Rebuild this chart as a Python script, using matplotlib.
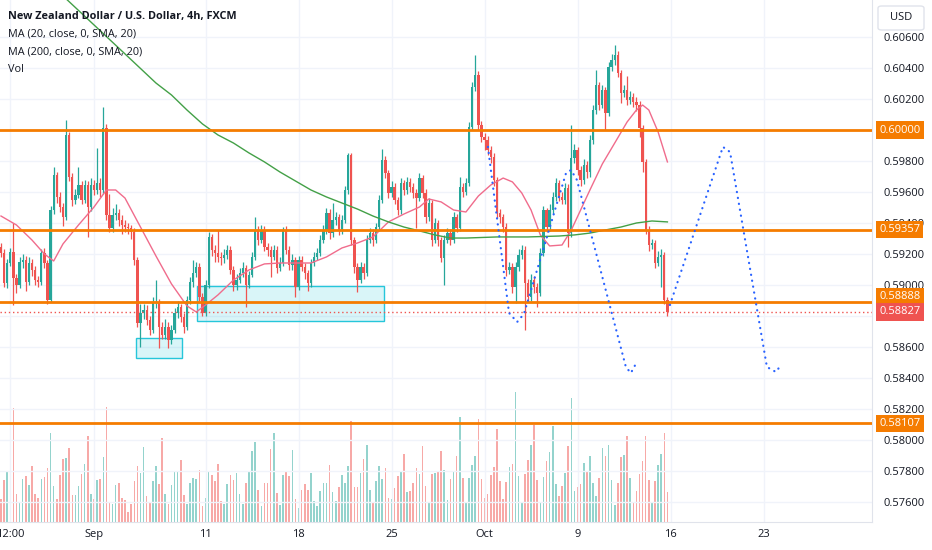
import matplotlib
matplotlib.use("Agg")
import matplotlib.pyplot as plt
import matplotlib.transforms as mtransforms
from matplotlib.patches import Rectangle, FancyBboxPatch
import numpy as np

plt.rcParams["font.family"] = ["Open Sans", "DejaVu Sans"]

# NZDUSD 4h candles, prices in 1e-5 USD
first_open = 59245
closes = [
    59206, 59013, 59142, 59213, 59045, 59000, 59148, 59161, 59019, 59142,
    59097, 59032, 59019, 59206, 59142, 58903, 59484, 59710, 59568, 59503,
    59439, 59968, 59697, 59548, 59581, 59645, 59548, 59645, 59503, 59645,
    59613, 59658, 59613, 60013, 59452, 59368, 59452, 59465, 59419, 59387,
    59374, 59368, 59342, 59161, 58755, 58819, 58839, 58774, 58710, 58884,
    58890, 58729, 58677, 58729, 58645, 58710, 58819, 58858, 58793, 58729,
    58903, 59019, 59077, 59116, 58923, 58819, 59000, 59310, 59226, 59206,
    59181, 59174, 59194, 59226, 59097, 59000, 59032, 59077, 59110, 59000,
    59065, 59181, 59355, 59290, 59355, 59245, 59226, 59181, 59226, 59110,
    59142, 59355, 59226, 59129, 59161, 58987, 59161, 59116, 59077, 59013,
    59142, 59181, 59206, 59290, 59355, 59465, 59335, 59419, 59439, 59355,
    59419, 59613, 59839, 59290, 59116, 59032, 59116, 59077, 59290, 59335,
    59290, 59374, 59548, 59806, 59723, 59594, 59632, 59548, 59484, 59658,
    59613, 59665, 59632, 59594, 59561, 59690, 59594, 59439, 59529, 59290,
    59400, 59290, 59174, 59290, 59335, 59290, 59439, 59368, 59632, 59600,
    59658, 60019, 60277, 60355, 60032, 59955, 59935, 59871, 59826, 59677,
    59465, 59439, 59374, 59097, 59116, 58987, 59116, 59194, 59226, 59013,
    58923, 59032, 58987, 58948, 59206, 59484, 59374, 59484, 59568, 59658,
    59568, 59548, 59626, 59335, 59819, 59871, 59742, 59677, 59774, 59729,
    59935, 60129, 60290, 60161, 60258, 60110, 60406, 60452, 60484, 60368,
    60239, 60258, 60194, 60213, 60181, 60161, 60013, 59794, 59355, 59258,
    59271, 59142, 59181, 59194, 58903, 58827,
]
highs = [
    59270, 59230, 59170, 59240, 59400, 59070, 59180, 59200, 59190, 59180,
    59170, 59120, 59060, 59230, 59240, 59160, 59510, 59760, 59730, 59600,
    59530, 60065, 59990, 59720, 59620, 59761, 59670, 59680, 59670, 59690,
    59680, 59884, 59690, 60148, 60040, 59590, 59500, 59520, 59490, 59450,
    59420, 59400, 59390, 59370, 59180, 58880, 58880, 58870, 58800, 58920,
    59032, 58910, 58760, 58780, 58760, 58740, 58850, 58900, 58880, 58820,
    58930, 59050, 59161, 59150, 59140, 58950, 59030, 59342, 59330, 59260,
    59355, 59210, 59230, 59260, 59250, 59120, 59070, 59110, 59150, 59130,
    59090, 59210, 59439, 59380, 59390, 59380, 59270, 59250, 59260, 59250,
    59180, 59374, 59380, 59250, 59200, 59180, 59190, 59190, 59140, 59100,
    59170, 59210, 59240, 59320, 59390, 59500, 59490, 59529, 59470, 59460,
    59450, 59640, 59852, 59850, 59310, 59140, 59150, 59140, 59320, 59370,
    59360, 59400, 59580, 59877, 59830, 59740, 59670, 59660, 59570, 59690,
    59680, 59700, 59690, 59660, 59620, 59720, 59710, 59620, 59560, 59550,
    59430, 59420, 59310, 59320, 59370, 59360, 59470, 59460, 59697, 59660,
    59690, 60050, 60310, 60484, 60380, 60060, 59980, 59960, 59900, 59850,
    59700, 59490, 59460, 59400, 59150, 59140, 59150, 59230, 59260, 59250,
    59040, 59070, 59060, 59010, 59240, 59510, 59500, 59520, 59600, 59690,
    59680, 59600, 59660, 59650, 60032, 59910, 59890, 59770, 59810, 59800,
    59970, 60160, 60387, 60310, 60290, 60280, 60440, 60490, 60549, 60510,
    60390, 60290, 60350, 60250, 60240, 60210, 60190, 60030, 59810, 59380,
    59300, 59290, 59220, 59230, 59210, 58920,
]
lows = [
    59180, 58990, 58980, 59120, 58871, 58950, 58980, 59110, 58960, 59000,
    59060, 59000, 58990, 59000, 59110, 58877, 58890, 59460, 59530, 59470,
    59380, 59420, 59670, 59510, 59520, 59560, 59520, 59530, 59310, 59480,
    59580, 59590, 59570, 59590, 59420, 59340, 59340, 59420, 59380, 59330,
    59340, 59330, 59300, 59130, 58730, 58600, 58780, 58740, 58680, 58690,
    58850, 58594, 58650, 58650, 58594, 58620, 58690, 58790, 58760, 58690,
    58710, 58880, 58990, 59050, 58900, 58800, 58800, 58980, 59190, 59150,
    59150, 59130, 59140, 59170, 59070, 58960, 58970, 59010, 59050, 58858,
    58980, 59050, 59160, 59260, 59270, 59220, 59190, 59052, 59160, 59080,
    59090, 59120, 59200, 59100, 59100, 58923, 58970, 59090, 59040, 58960,
    58990, 59120, 59160, 59190, 59270, 59330, 59300, 59310, 59390, 59320,
    59330, 59400, 59590, 59260, 59080, 58955, 59010, 59040, 59060, 59270,
    59250, 59270, 59350, 59530, 59690, 59560, 59570, 59520, 59450, 59460,
    59580, 59590, 59600, 59560, 59368, 59540, 59560, 59400, 59410, 59250,
    59270, 59250, 59150, 59000, 59270, 59260, 59270, 59340, 59350, 59570,
    59580, 59640, 60000, 60250, 60000, 59920, 59871, 59840, 59790, 59640,
    59430, 59400, 59340, 59060, 59070, 58950, 58884, 59090, 59170, 58710,
    58890, 58900, 58950, 58858, 58930, 59190, 59340, 59350, 59460, 59540,
    59540, 59520, 59520, 59245, 59310, 59790, 59710, 59640, 59650, 59690,
    59700, 59910, 60100, 60130, 60140, 60000, 60090, 60380, 60420, 60340,
    60174, 60210, 60160, 60170, 60150, 60120, 59955, 59729, 59330, 59220,
    59230, 59110, 59120, 58987, 58880, 58800,
]
volumes = [
    23, 42, 50, 42, 114, 28, 19, 43, 46, 37, 56, 28, 24, 43, 45, 54, 89, 36, 23, 47,
    63, 64, 74, 27, 27, 36, 48, 58, 86, 28, 23, 42, 43, 65, 115, 20, 18, 37, 39, 24,
    22, 10, 18, 41, 56, 49, 75, 26, 20, 41, 56, 38, 84, 28, 18, 37, 50, 50, 62, 27,
    18, 39, 44, 43, 52, 16, 24, 51, 47, 41, 58, 21, 18, 38, 47, 42, 49, 28, 18, 39,
    50, 71, 80, 32, 16, 39, 39, 73, 89, 29, 17, 47, 51, 46, 72, 23, 14, 32, 38, 32,
    49, 21, 16, 31, 39, 39, 57, 30, 21, 35, 47, 39, 56, 101, 35, 35, 49, 63, 77, 32,
    20, 41, 56, 43, 54, 24, 23, 34, 46, 50, 68, 30, 31, 39, 54, 48, 76, 36, 19, 48,
    49, 50, 71, 52, 22, 43, 50, 66, 105, 44, 20, 44, 57, 66, 103, 43, 24, 28, 47, 55,
    93, 41, 23, 40, 55, 58, 130, 46, 20, 48, 62, 77, 97, 42, 20, 45, 61, 70, 96, 38,
    26, 36, 49, 76, 124, 31, 35, 38, 59, 50, 66, 39, 26, 44, 74, 66, 77, 42, 17, 39,
    65, 67, 86, 44, 20, 31, 48, 61, 86, 42, 20, 41, 57, 68, 89, 30,
]

# moving averages (candle index, price 1e-5)
ma20_idx = [0, 5, 10, 14, 17, 20, 25, 30, 34, 37, 40, 45, 50, 55, 60, 63, 66, 70,
            75, 80, 85, 90, 95, 100, 105, 110, 115, 120, 125, 130, 135, 138, 142,
            146, 150, 154, 158, 162, 165, 168, 171, 174, 177, 181, 184, 187, 190,
            194, 198, 202, 205, 207, 209, 212, 215]
ma20_val = [59445, 59387, 59290, 59200, 59155, 59265, 59387, 59503, 59613, 59613,
            59561, 59374, 59187, 59007, 58865, 58826, 58871, 58936, 59032, 59097,
            59136, 59142, 59142, 59142, 59181, 59239, 59271, 59310, 59407, 59458,
            59503, 59555, 59536, 59484, 59471, 59574, 59645, 59690, 59665, 59594,
            59484, 59323, 59252, 59258, 59355, 59484, 59613, 59781, 59916, 60052,
            60129, 60161, 60129, 59987, 59794]
ma200_idx = [20, 30, 40, 50, 55, 60, 65, 70, 75, 80, 85, 90, 95, 100, 105, 110, 115,
             120, 125, 130, 135, 140, 145, 150, 160, 170, 180, 185, 190, 195, 200,
             205, 210, 215]
ma200_val = [60865, 60678, 60491, 60303, 60226, 60129, 60039, 59968, 59916, 59852,
             59794, 59729, 59671, 59613, 59568, 59529, 59490, 59445, 59407, 59374,
             59349, 59323, 59303, 59303, 59310, 59310, 59316, 59323, 59335, 59355,
             59374, 59400, 59413, 59407]

# drawings
levels = [0.60000, 0.59357, 0.58888, 0.58107]
last_price = 0.58827
box_left = [43.5, 63.2]
box_right = [58.4, 123.5]
box_low = [0.58529, 0.58768]
box_high = [0.58658, 0.58994]
path1_idx = [157.1, 163.9, 166.5, 168.7, 182.3, 183.9, 185.8, 201.6, 203.2, 204.8]
path1_val = [0.59891, 0.58820, 0.58761, 0.58813, 0.59723, 0.59742, 0.59678,
             0.58471, 0.58432, 0.58491]
path2_idx = [215.8, 232.9, 235.2, 247.1, 250.0, 251.9]
path2_val = [0.58871, 0.59891, 0.59858, 0.58471, 0.58439, 0.58491]

tick_idx = [3, 30, 66, 96, 126, 156, 186, 216, 246]
tick_labels = ["12:00", "Sep", "11", "18", "25", "Oct", "9", "16", "23"]
price_ticks = [0.576 + 0.002 * k for k in range(16)]

UP = "#26a69a"
DOWN = "#ef5350"
ORANGE = "#f57c00"
TXT = "#131722"

c = np.array(closes) / 1e5
o = np.array([first_open] + closes[:-1]) / 1e5
h = np.array(highs) / 1e5
l = np.array(lows) / 1e5
x = np.arange(len(c))
up = c >= o
cols = np.where(up, UP, DOWN)
vcols = np.where(up, "#94d3cd", "#f7a9a7")

fig = plt.figure(figsize=(9.32, 5.5), dpi=100)
ax = fig.add_axes([0, 28 / 550, 872 / 932, 522 / 550])
ax2 = ax.twinx()
ax.set_zorder(ax2.get_zorder() + 1)
ax.patch.set_visible(False)

# volume
ax2.bar(x, volumes, width=0.5, color=vcols)
ax2.set_ylim(0, 4.0 * max(volumes))
ax2.set_yticks([])
for s in ax2.spines.values():
    s.set_visible(False)

# grid
for p in price_ticks:
    ax.axhline(p, color="#f0f3fa", lw=1, zorder=0)
for t in tick_idx:
    ax.axvline(t, color="#f0f3fa", lw=1, zorder=0)

# boxes
for bl, br, blo, bhi in zip(box_left, box_right, box_low, box_high):
    ax.add_patch(Rectangle((bl, blo), br - bl, bhi - blo, facecolor=(0.0, 0.74, 0.83, 0.15),
                           edgecolor="#26c6da", lw=1, zorder=1))

# candles
ax.vlines(x, l, h, colors=cols, lw=0.9, zorder=3)
ax.bar(x, np.maximum(np.abs(c - o), 0.00002), bottom=np.minimum(o, c), width=0.75,
       color=cols, zorder=3)

# moving averages
ax.plot(ma20_idx, np.array(ma20_val) / 1e5, color="#f06c8c", lw=1, zorder=4)
ax.plot(ma200_idx, np.array(ma200_val) / 1e5, color="#43a047", lw=1, zorder=4)

# horizontal levels
for lv in levels:
    ax.axhline(lv, color=ORANGE, lw=2, zorder=5)
ax.axhline(last_price, color=DOWN, lw=1, ls=(0, (1, 2)), zorder=5)

# projections
for px, pv in [(path1_idx, path1_val), (path2_idx, path2_val)]:
    ax.plot(px, pv, color="#2962ff", lw=1.6, ls=(0, (0.1, 2.6)),
            dash_capstyle="round", zorder=6)

ax.set_xlim(-0.32, 281.0)
ax.set_ylim(0.574710, 0.608387)

# scale labels hidden under the level boxes are left blank
covered = {"0.60000", "0.58800"}
ax.yaxis.tick_right()
ax.set_yticks(price_ticks)
ax.set_yticklabels(["" if f"{p:.5f}" in covered else f"{p:.5f}" for p in price_ticks])
ax.set_xticks(tick_idx)
ax.set_xticklabels(tick_labels)
ax.tick_params(axis="y", length=0, pad=8, labelsize=8, labelcolor=TXT)
ax.tick_params(axis="x", length=0, pad=5, labelsize=8, labelcolor=TXT)
for name, s in ax.spines.items():
    if name in ("right", "bottom"):
        s.set_color("#e0e3eb")
    else:
        s.set_visible(False)

# price labels on the scale
tr = mtransforms.blended_transform_factory(fig.transFigure, ax.transData)
label_vals = levels + [last_price]
label_cols = [ORANGE] * 4 + [DOWN]
label_shift = [0, 0, 6, 0, 0]
for v, col, sh in zip(label_vals, label_cols, label_shift):
    ax.annotate(f"{v:.5f}", xy=(879 / 932, v), xycoords=tr, xytext=(0, sh * 0.72),
                textcoords="offset points", va="center", ha="left", fontsize=8,
                color="white", annotation_clip=False, zorder=10,
                bbox=dict(boxstyle="square,pad=0.3", fc=col, ec="none"))

fig.add_artist(FancyBboxPatch((878 / 932, 1 - 30 / 550), 46 / 932, 24 / 550,
                              boxstyle="round,pad=0,rounding_size=0.004",
                              transform=fig.transFigure, fc="white", ec="#e0e3eb", lw=1,
                              zorder=10))
fig.text(901 / 932, 1 - 18 / 550, "USD", ha="center", va="center", fontsize=8,
         color=TXT, zorder=11)

# legend texts
fig.text(8 / 932, 1 - 17 / 550, "New Zealand Dollar / U.S. Dollar, 4h, FXCM",
         fontsize=7.8, fontweight="bold", color=TXT, va="center")
fig.text(8 / 932, 1 - 34 / 550, "MA (20, close, 0, SMA, 20)", fontsize=7.8, color=TXT, va="center")
fig.text(8 / 932, 1 - 52 / 550, "MA (200, close, 0, SMA, 20)", fontsize=7.8, color=TXT, va="center")
fig.text(8 / 932, 1 - 69 / 550, "Vol", fontsize=7.8, color=TXT, va="center")

fig.savefig("out.png", dpi=100, facecolor="white")
